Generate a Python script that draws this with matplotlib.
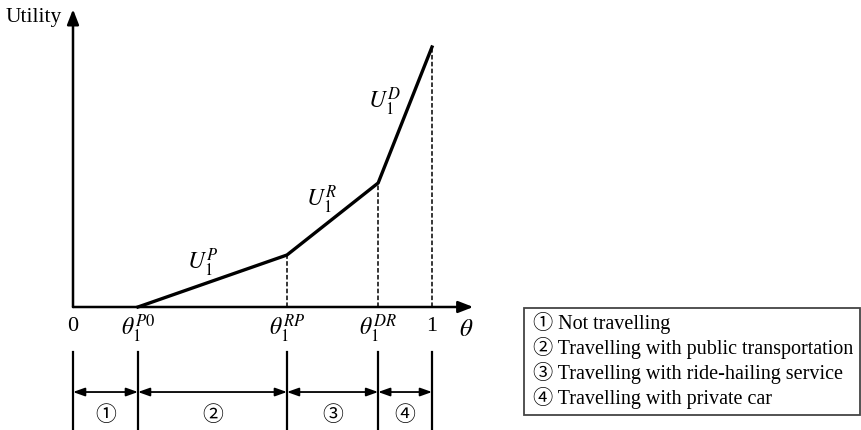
import matplotlib
matplotlib.use("Agg")
import matplotlib.pyplot as plt
from matplotlib.patches import Rectangle

plt.rcParams["mathtext.fontset"] = "stix"
SERIF = ["Liberation Serif", "Noto Sans CJK JP", "DejaVu Serif"]

# Thresholds along the theta axis and utility at each kink
theta_points = [0.0, 0.181, 0.596, 0.850, 1.0]
utility_points = [0.0, 0.0, 0.20, 0.477, 1.0]
theta_labels = ["0", r"$\theta_1^{P0}$", r"$\theta_1^{RP}$", r"$\theta_1^{DR}$", "1"]
curve_labels = [r"$U_1^{P}$", r"$U_1^{R}$", r"$U_1^{D}$"]
curve_label_pos = [(0.362, 0.17), (0.694, 0.41), (0.869, 0.79)]
region_marks = ["\u2460", "\u2461", "\u2462", "\u2463"]
legend_lines = [
    "\u2460 Not travelling",
    "\u2461 Travelling with public transportation",
    "\u2462 Travelling with ride-hailing service",
    "\u2463 Travelling with private car",
]

fig = plt.figure(figsize=(8.61, 4.30), dpi=100)
ax = fig.add_axes([0, 0, 1, 1])
ax.set_xlim(-73 / 359, 788 / 359)
ax.set_ylim(-123 / 260, 307 / 260)
ax.axis("off")

# Axes with arrow heads
ax.annotate("", xy=(1.115, 0), xytext=(0, 0),
            arrowprops=dict(arrowstyle="-|>,head_length=0.9,head_width=0.35",
                            lw=1.8, color="black", shrinkA=0, shrinkB=0))
ax.annotate("", xy=(0, 1.145), xytext=(0, 0),
            arrowprops=dict(arrowstyle="-|>,head_length=0.9,head_width=0.35",
                            lw=1.8, color="black", shrinkA=0, shrinkB=0))
ax.text(-0.03, 1.112, "Utility", ha="right", va="center", fontsize=15.5, family=SERIF)
ax.text(1.095, -0.085, r"$\theta$", ha="center", va="center", fontsize=18)

# Piecewise utility curve
ax.plot(theta_points[1:], utility_points[1:], color="black", lw=2.4,
        solid_joinstyle="miter", zorder=3)

# Dashed drop lines at the kinks
for t, u in zip(theta_points[2:], utility_points[2:]):
    ax.plot([t, t], [0, u], color="black", lw=1.1, ls=(0, (3, 1.5)), zorder=2)

for (x, y), lab in zip(curve_label_pos, curve_labels):
    ax.text(x, y, lab, ha="center", va="center", fontsize=17)

# Threshold labels under the axis
for t, lab in zip(theta_points, theta_labels):
    if lab in ("0", "1"):
        ax.text(t, -0.075, lab, ha="center", va="center", fontsize=16, family=SERIF)
    else:
        ax.text(t, -0.085, lab, ha="center", va="center", fontsize=17)

# Region brackets below the axis
y_top, y_bot, y_arrow, y_mark = -0.173, -0.48, -0.327, -0.418
for t in theta_points:
    ax.plot([t, t], [y_top, y_bot], color="black", lw=1.6, clip_on=False)
for i, mark in enumerate(region_marks):
    a, b = theta_points[i], theta_points[i + 1]
    ax.annotate("", xy=(b, y_arrow), xytext=(a, y_arrow),
                arrowprops=dict(arrowstyle="<|-|>,head_length=0.7,head_width=0.25",
                                lw=1.3, color="black", shrinkA=0, shrinkB=0))
    ax.text((a + b) / 2, y_mark, mark, ha="center", va="center", fontsize=15,
            family=SERIF)

# Legend box
ax.add_patch(Rectangle((1.256, -0.415), 0.936, 0.411, fc="white", ec="#444444",
                       lw=1.3, clip_on=False))
legend_y = [-0.062, -0.158, -0.254, -0.350]
for y, line in zip(legend_y, legend_lines):
    ax.text(1.28, y, line, ha="left", va="center", fontsize=14.5, family=SERIF)

fig.savefig("out.png", dpi=100)
